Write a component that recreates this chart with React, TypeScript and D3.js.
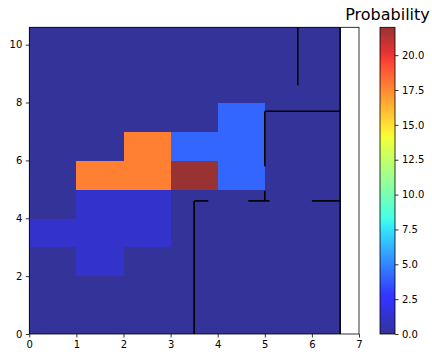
import React, { useRef, useEffect } from 'react';
import * as d3 from 'd3';

// cell edges
const xEdges = [0, 1, 2, 3, 4, 5, 6, 6.6];
const yEdges = [0, 1, 2, 3, 4, 5, 6, 7, 8, 9, 10, 10.6];

// probability per cell, row by row from the bottom (y = 0) up
const probRows = [
  [0, 0, 0, 0, 0, 0, 0],
  [0, 0, 0, 0, 0, 0, 0],
  [0, 1.2, 0, 0, 0, 0, 0],
  [1.2, 1.2, 1.2, 0, 0, 0, 0],
  [0, 1.2, 1.2, 0, 0, 0, 0],
  [0, 17.8, 17.8, 22, 4.1, 0, 0],
  [0, 0, 17.8, 4.1, 4.1, 0, 0],
  [0, 0, 0, 0, 4.1, 0, 0],
  [0, 0, 0, 0, 0, 0, 0],
  [0, 0, 0, 0, 0, 0, 0],
  [0, 0, 0, 0, 0, 0, 0],
];

// walls: [x1, y1, x2, y2]
const walls = [
  [5.7, 8.6, 5.7, 10.6],
  [5.0, 7.7, 6.6, 7.7],
  [5.0, 7.7, 5.0, 5.8],
  [5.0, 4.95, 5.0, 4.6],
  [3.5, 4.6, 3.8, 4.6],
  [4.65, 4.6, 5.1, 4.6],
  [6.0, 4.6, 6.6, 4.6],
  [3.5, 4.6, 3.5, 0],
  [6.6, 0, 6.6, 10.6],
];

const xTicks = [0, 1, 2, 3, 4, 5, 6, 7];
const yTicks = [0, 2, 4, 6, 8, 10];
const cbarTicks = [0, 2.5, 5, 7.5, 10, 12.5, 15, 17.5, 20];
const vMax = 22;

// matplotlib jet segment data
const jetR = [[0, 0], [0.35, 0], [0.66, 1], [0.89, 1], [1, 0.5]];
const jetG = [[0, 0], [0.125, 0], [0.375, 1], [0.64, 1], [0.91, 0], [1, 0]];
const jetB = [[0, 0.5], [0.11, 1], [0.34, 1], [0.65, 0], [1, 0]];

const seg = (pts: number[][], t: number) => {
  for (let i = 1; i < pts.length; i++) {
    if (t <= pts[i][0]) {
      const [x0, y0] = pts[i - 1];
      const [x1, y1] = pts[i];
      return y0 + (y1 - y0) * (t - x0) / (x1 - x0);
    }
  }
  return pts[pts.length - 1][1];
};

// jet with alpha 0.8 over white
const jet = (t: number) => {
  const mix = (c: number) => Math.round(255 * (0.8 * c + 0.2));
  return d3.rgb(mix(seg(jetR, t)), mix(seg(jetG, t)), mix(seg(jetB, t))).toString();
};

const App = () => {
  const svgRef = useRef<SVGSVGElement>(null);

  useEffect(() => {
    const width = 432;
    const height = 358;
    const margin = { top: 27.3, left: 29.3, right: 73, bottom: 24 };
    const innerW = 359 - margin.left;
    const innerH = 334 - margin.top;

    const svg = d3.select(svgRef.current)
      .attr('width', width)
      .attr('height', height);
    svg.selectAll('*').remove();

    const font = '"DejaVu Sans", sans-serif';

    const x = d3.scaleLinear().domain([0, 7]).range([margin.left, margin.left + innerW]);
    const y = d3.scaleLinear().domain([0, 10.6]).range([margin.top + innerH, margin.top]);

    // cells
    const cells: { x0: number; x1: number; y0: number; y1: number; v: number }[] = [];
    probRows.forEach((row, j) => {
      row.forEach((v, i) => {
        cells.push({ x0: xEdges[i], x1: xEdges[i + 1], y0: yEdges[j], y1: yEdges[j + 1], v });
      });
    });

    svg.append('g')
      .selectAll('rect')
      .data(cells)
      .enter()
      .append('rect')
      .attr('x', d => x(d.x0))
      .attr('y', d => y(d.y1))
      .attr('width', d => x(d.x1) - x(d.x0) + 0.3)
      .attr('height', d => y(d.y0) - y(d.y1) + 0.3)
      .attr('fill', d => jet(d.v / vMax))
      .attr('shape-rendering', 'crispEdges');

    // walls
    svg.append('g')
      .selectAll('line')
      .data(walls)
      .enter()
      .append('line')
      .attr('x1', d => x(d[0]))
      .attr('y1', d => y(d[1]))
      .attr('x2', d => x(d[2]))
      .attr('y2', d => y(d[3]))
      .attr('stroke', 'black')
      .attr('stroke-width', 1.6);

    // frame
    svg.append('rect')
      .attr('x', margin.left)
      .attr('y', margin.top)
      .attr('width', innerW)
      .attr('height', innerH)
      .attr('fill', 'none')
      .attr('stroke', 'black')
      .attr('stroke-width', 0.8);

    // x axis
    const xAxis = svg.append('g')
      .attr('transform', `translate(0,${margin.top + innerH})`)
      .call(d3.axisBottom(x).tickValues(xTicks).tickFormat(d3.format('d')).tickSize(3.5).tickPadding(3.5));
    xAxis.select('.domain').remove();

    // y axis
    const yAxis = svg.append('g')
      .attr('transform', `translate(${margin.left},0)`)
      .call(d3.axisLeft(y).tickValues(yTicks).tickFormat(d3.format('d')).tickSize(3.5).tickPadding(3.5));
    yAxis.select('.domain').remove();

    // colorbar
    const cbX = 380;
    const cbW = 15;
    const c = d3.scaleLinear().domain([0, vMax]).range([margin.top + innerH, margin.top]);

    const grad = svg.append('defs')
      .append('linearGradient')
      .attr('id', 'jetGrad')
      .attr('x1', 0).attr('y1', 1).attr('x2', 0).attr('y2', 0);
    d3.range(0, 1.0001, 0.02).forEach(t => {
      grad.append('stop').attr('offset', t).attr('stop-color', jet(t));
    });

    svg.append('rect')
      .attr('x', cbX)
      .attr('y', c(vMax))
      .attr('width', cbW)
      .attr('height', c(0) - c(vMax))
      .attr('fill', 'url(#jetGrad)')
      .attr('stroke', 'black')
      .attr('stroke-width', 0.8);

    const cAxis = svg.append('g')
      .attr('transform', `translate(${cbX + cbW},0)`)
      .call(d3.axisRight(c).tickValues(cbarTicks).tickFormat(d3.format('.1f')).tickSize(3.5).tickPadding(3.5));
    cAxis.select('.domain').remove();

    svg.selectAll('.tick text')
      .attr('font-family', font)
      .attr('font-size', 10)
      .attr('fill', 'black');
    svg.selectAll('.tick line')
      .attr('stroke', 'black')
      .attr('stroke-width', 0.8);

    svg.append('text')
      .attr('x', cbX + cbW / 2)
      .attr('y', 20)
      .attr('text-anchor', 'middle')
      .attr('font-family', font)
      .attr('font-size', 16)
      .attr('fill', 'black')
      .text('Probability');
  }, []);

  return (
    <svg ref={svgRef} style={{ position: 'absolute', left: 0, top: 0 }}></svg>
  );
};

export default App;
